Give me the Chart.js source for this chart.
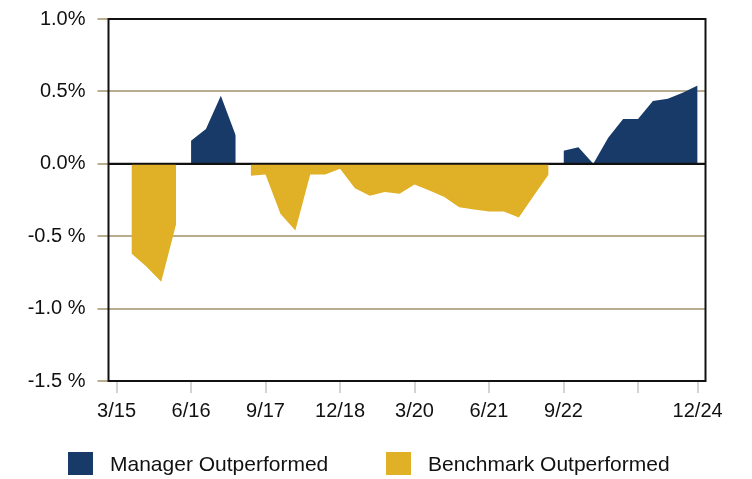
<!DOCTYPE html>
<html>
<head>
<meta charset="utf-8">
<script src="https://cdn.jsdelivr.net/npm/chart.js@4/dist/chart.umd.min.js"></script>
<style>
  html, body { margin: 0; padding: 0; background: #fff; }
  #wrap { position: relative; width: 752px; height: 479px; }
  #legend { position: absolute; top: 452px; left: 0; width: 752px; font: 21px "Liberation Sans", Arial, sans-serif; color: #111; }
  .item { position: absolute; top: 0; height: 24px; line-height: 24px; white-space: nowrap; }
  .box { position: absolute; top: 0; width: 25px; height: 23px; }
</style>
</head>
<body>
<div id="wrap">
  <canvas id="chart" width="752" height="479"></canvas>
  <div id="legend"></div>
</div>
<script>
// quarters, 3/15 .. 12/24
const quarters = [
  "3/15", "6/15", "9/15", "12/15", "3/16", "6/16", "9/16", "12/16",
  "3/17", "6/17", "9/17", "12/17", "3/18", "6/18", "9/18", "12/18",
  "3/19", "6/19", "9/19", "12/19", "3/20", "6/20", "9/20", "12/20",
  "3/21", "6/21", "9/21", "12/21", "3/22", "6/22", "9/22", "12/22",
  "3/23", "6/23", "9/23", "12/23", "3/24", "6/24", "9/24", "12/24"
];

// excess return (%) when the manager was ahead
const managerOut = [
  null, null, null, null, null, 0.16, 0.24, 0.47,
  0.195, null, null, null, null, null, null, null,
  null, null, null, null, null, null, null, null,
  null, null, null, null, null, null, 0.09, 0.115,
  0.0, 0.18, 0.31, 0.31, 0.433, 0.45, 0.49, 0.54
];

// excess return (%) when the benchmark was ahead
const benchmarkOut = [
  null, -0.62, -0.71, -0.815, -0.415, null, null, null,
  null, -0.082, -0.074, -0.345, -0.46, -0.074, -0.074, -0.035,
  -0.168, -0.22, -0.195, -0.207, -0.143, -0.185, -0.23, -0.30,
  -0.315, -0.33, -0.33, -0.37, -0.22, -0.074, null, null,
  null, null, null, null, null, null, null, null
];

const xTickIndex = [0, 5, 10, 15, 20, 25, 30, 35, 39];
const xTickText = ["3/15", "6/16", "9/17", "12/18", "3/20", "6/21", "9/22", "", "12/24"];
const yTickValues = [-1.5, -1.0, -0.5, 0.0, 0.5, 1.0];
const yTickText = ["-1.5 %", "-1.0 %", "-0.5 %", "0.0%", "0.5%", "1.0%"];

const seriesNames = ["Manager Outperformed", "Benchmark Outperformed"];
const seriesColors = ["#183a68", "#e0b027"];

const FONT = "'Liberation Sans', Arial, sans-serif";
const GRID = "#b8ad8e";

function toPoints(arr) {
  return arr.map((v, i) => ({ x: i, y: v }));
}

// zero line + frame drawn above the areas
const framePlugin = {
  id: "frame",
  afterDatasetsDraw(chart) {
    const { ctx, chartArea: a, scales } = chart;
    const y0 = scales.y.getPixelForValue(0);
    ctx.save();
    ctx.strokeStyle = "#111";
    ctx.lineWidth = 2;
    ctx.beginPath();
    ctx.moveTo(a.left, y0);
    ctx.lineTo(a.right, y0);
    ctx.stroke();
    ctx.strokeRect(a.left, a.top, a.right - a.left, a.bottom - a.top);
    ctx.restore();
  }
};

new Chart(document.getElementById("chart"), {
  type: "line",
  data: {
    datasets: [
      {
        label: seriesNames[0],
        data: toPoints(managerOut),
        backgroundColor: seriesColors[0],
        borderWidth: 0,
        pointRadius: 0,
        fill: "origin",
        spanGaps: false,
        tension: 0
      },
      {
        label: seriesNames[1],
        data: toPoints(benchmarkOut),
        backgroundColor: seriesColors[1],
        borderWidth: 0,
        pointRadius: 0,
        fill: "origin",
        spanGaps: false,
        tension: 0
      }
    ]
  },
  options: {
    responsive: false,
    animation: false,
    layout: { padding: { top: 19, right: 46.5, left: 0, bottom: 58 } },
    plugins: { legend: { display: false }, tooltip: { enabled: false } },
    scales: {
      x: {
        type: "linear",
        min: -0.54,
        max: 39.53,
        afterBuildTicks(scale) {
          scale.ticks = xTickIndex.map(v => ({ value: v }));
        },
        afterFit(scale) {
          scale.height = 40;
          scale.paddingLeft = 0;
          scale.paddingRight = 0;
        },
        border: { display: false },
        grid: { drawOnChartArea: false, drawTicks: true, tickLength: 12, tickColor: "#d4d4d4", lineWidth: 2 },
        ticks: {
          autoSkip: false,
          maxRotation: 0,
          padding: 6,
          color: "#111",
          font: { family: FONT, size: 20 },
          callback(v) {
            const k = xTickIndex.indexOf(v);
            return k >= 0 ? xTickText[k] : "";
          }
        }
      },
      y: {
        min: -1.5,
        max: 1.0,
        afterBuildTicks(scale) {
          scale.ticks = yTickValues.map(v => ({ value: v }));
        },
        afterFit(scale) {
          scale.width = 108.5;
          scale.paddingTop = 0;
          scale.paddingBottom = 0;
        },
        border: { display: false },
        grid: {
          color: ctx => (ctx.tick && ctx.tick.value === 0 ? "#111" : GRID),
          tickColor: GRID,
          tickLength: 11,
          lineWidth: 2
        },
        ticks: {
          padding: 12,
          color: "#111",
          font: { family: FONT, size: 20 },
          callback(v) {
            const k = yTickValues.findIndex(t => Math.abs(t - v) < 1e-9);
            return k >= 0 ? yTickText[k] : "";
          }
        }
      }
    }
  },
  plugins: [framePlugin]
});

// legend below the plot
const legend = document.getElementById("legend");
const legendX = [68, 386];
seriesNames.forEach((name, i) => {
  const item = document.createElement("div");
  item.className = "item";
  item.style.left = legendX[i] + "px";
  const box = document.createElement("span");
  box.className = "box";
  box.style.left = "0px";
  box.style.background = seriesColors[i];
  const txt = document.createElement("span");
  txt.style.position = "absolute";
  txt.style.left = "42px";
  txt.textContent = name;
  item.appendChild(box);
  item.appendChild(txt);
  legend.appendChild(item);
});
</script>
</body>
</html>
